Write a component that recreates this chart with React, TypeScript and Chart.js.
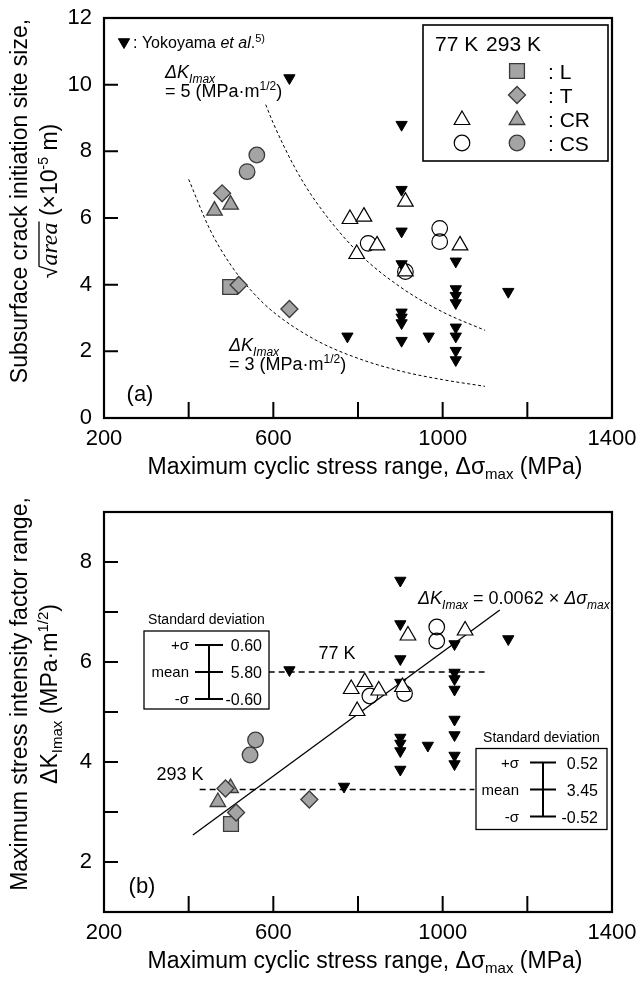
import React, { useEffect, useRef } from 'react';
import { Chart, registerables } from 'chart.js';
Chart.register(...registerables);

const FONT = '"Liberation Sans", Arial, Helvetica, sans-serif';
const SERIF = '"Liberation Serif", "DejaVu Serif", serif';
const GRAY = '#a4a4a4';
const EDGE = '#3a3a3a';

// ---- shared axis data ----
const xTicks = [200, 400, 600, 800, 1000, 1200, 1400];
const xTickLabels = [200, 600, 1000, 1400];
const yTicksA = [0, 2, 4, 6, 8, 10, 12];
const yTicksB = [1, 2, 3, 4, 5, 6, 7, 8, 9];
const yTickLabelsB = [2, 4, 6, 8];

// ---- (a) sqrt(area) x10^-5 m vs stress ----
const yokoSigmaA = [638, 775, 903, 903, 903, 903, 903, 903, 903, 903, 967, 1031, 1031, 1031, 1031, 1031, 1031, 1031, 1031, 1155];
const yokoAreaA = [10.2, 2.45, 8.8, 6.85, 5.6, 4.62, 3.17, 3.02, 2.85, 2.32, 2.45, 4.7, 3.87, 3.67, 3.45, 2.72, 2.45, 2.02, 1.74, 3.79];
const cr77SigmaA = [781, 814, 797, 845, 912, 912, 1041];
const cr77AreaA = [5.97, 6.04, 4.92, 5.18, 6.49, 4.4, 5.18];
const cs77SigmaA = [993, 993, 912, 824];
const cs77AreaA = [5.69, 5.29, 4.39, 5.24];
const l293SigmaA = [498];
const l293AreaA = [3.93];
const t293SigmaA = [479, 518, 638];
const t293AreaA = [6.74, 3.99, 3.27];
const cr293SigmaA = [461, 499];
const cr293AreaA = [6.22, 6.4];
const cs293SigmaA = [561, 538];
const cs293AreaA = [7.89, 7.39];
const dk3Sigma = [400, 450, 500, 550, 600, 700, 800, 900, 1000, 1100];
const dk3Area = [7.16, 5.66, 4.58, 3.79, 3.18, 2.34, 1.79, 1.41, 1.15, 0.95];
const dk5Sigma = [582, 600, 650, 700, 800, 900, 1000, 1100];
const dk5Area = [9.4, 8.84, 7.53, 6.5, 4.97, 3.93, 3.18, 2.63];

// ---- (b) dK_Imax vs stress ----
const yokoSigmaB = [638, 767, 900, 900, 900, 900, 900, 900, 900, 900, 965, 1028, 1028, 1028, 1028, 1028, 1028, 1028, 1028, 1155];
const yokoKB = [5.84, 3.51, 7.63, 6.76, 6.06, 5.59, 4.49, 4.37, 4.22, 3.85, 4.33, 6.36, 5.79, 5.66, 5.45, 4.85, 4.54, 4.13, 3.96, 6.46];
const cr77SigmaB = [784, 816, 798, 849, 918, 905, 1053];
const cr77KB = [5.46, 5.6, 5.02, 5.43, 6.53, 5.5, 6.63];
const cs77SigmaB = [986, 986, 910, 828];
const cs77KB = [6.7, 6.42, 5.37, 5.32];
const l293SigmaB = [500];
const l293KB = [2.76];
const t293SigmaB = [487, 512, 685];
const t293KB = [3.47, 2.99, 3.25];
const cr293SigmaB = [469, 499];
const cr293KB = [3.2, 3.48];
const cs293SigmaB = [558, 545];
const cs293KB = [4.44, 4.14];
const fitSigma = [410, 1135];
const fitK = [2.54, 7.04];
const mean77Sigma = [589, 1099];
const mean77K = [5.8, 5.8];
const mean293Sigma = [426, 1075];
const mean293K = [3.45, 3.45];
const sdLabels = ['+σ', 'mean', '-σ'];
const sd77Values = ['0.60', '5.80', '-0.60'];
const sd293Values = ['0.52', '3.45', '-0.52'];

const xy = (xs: number[], ys: number[]) => xs.map((x, i) => ({ x, y: ys[i] }));

const ptYoko = { pointStyle: 'triangle', rotation: 180, pointRadius: 6.5, backgroundColor: '#000', borderColor: '#000', borderWidth: 1 };
const ptL = { pointStyle: 'rect', pointRadius: 10.5, backgroundColor: GRAY, borderColor: EDGE, borderWidth: 1.3 };
const ptT = { pointStyle: 'rectRot', pointRadius: 8.5, backgroundColor: GRAY, borderColor: EDGE, borderWidth: 1.3 };
const ptCRg = { pointStyle: 'triangle', pointRadius: 9, backgroundColor: GRAY, borderColor: EDGE, borderWidth: 1.3 };
const ptCSg = { pointStyle: 'circle', pointRadius: 7.8, backgroundColor: GRAY, borderColor: EDGE, borderWidth: 1.3 };
const ptCRo = { pointStyle: 'triangle', pointRadius: 9, backgroundColor: '#fff', borderColor: '#000', borderWidth: 1.2 };
const ptCSo = { pointStyle: 'circle', pointRadius: 7.8, backgroundColor: 'rgba(255,255,255,0)', borderColor: '#000', borderWidth: 1.2 };

function fontOf(p: any) {
  return `${p.i ? 'italic ' : ''}${p.s}px ${p.serif ? SERIF : FONT}`;
}
function rich(ctx: any, parts: any[], x: number, y: number, align = 'left') {
  let w = 0;
  for (const p of parts) { ctx.font = fontOf(p); w += ctx.measureText(p.t).width; }
  let cx = align === 'center' ? x - w / 2 : align === 'right' ? x - w : x;
  ctx.textAlign = 'left';
  ctx.textBaseline = 'alphabetic';
  ctx.fillStyle = '#000';
  for (const p of parts) {
    ctx.font = fontOf(p);
    const tw = ctx.measureText(p.t).width;
    ctx.fillText(p.t, cx, y + (p.dy || 0));
    if (p.over) {
      ctx.beginPath();
      ctx.lineWidth = 1.3;
      ctx.strokeStyle = '#000';
      ctx.moveTo(cx - 1, y - p.over);
      ctx.lineTo(cx + tw + 1, y - p.over);
      ctx.stroke();
    }
    cx += tw;
  }
  return w;
}
function marker(ctx: any, style: string, x: number, y: number, r: number, fill: string | null, stroke: string | null, lw: number) {
  ctx.save();
  ctx.beginPath();
  if (style === 'circle') ctx.arc(x, y, r, 0, Math.PI * 2);
  else if (style === 'rect') { const s = r * Math.SQRT1_2; ctx.rect(x - s, y - s, 2 * s, 2 * s); }
  else if (style === 'rectRot') { ctx.moveTo(x - r, y); ctx.lineTo(x, y - r); ctx.lineTo(x + r, y); ctx.lineTo(x, y + r); ctx.closePath(); }
  else if (style === 'triangle') { ctx.moveTo(x, y - r); ctx.lineTo(x + r * 0.866, y + r / 2); ctx.lineTo(x - r * 0.866, y + r / 2); ctx.closePath(); }
  else if (style === 'down') { ctx.moveTo(x, y + r); ctx.lineTo(x + r * 0.866, y - r / 2); ctx.lineTo(x - r * 0.866, y - r / 2); ctx.closePath(); }
  if (fill) { ctx.fillStyle = fill; ctx.fill(); }
  if (stroke) { ctx.strokeStyle = stroke; ctx.lineWidth = lw; ctx.stroke(); }
  ctx.restore();
}

function drawFrame(chart: any) {
  const ctx = chart.ctx;
  const { left, right, top, bottom } = chart.chartArea;
  const xs = chart.scales.x, ys = chart.scales.y;
  ctx.save();
  ctx.strokeStyle = '#000';
  ctx.lineWidth = 2.2;
  ctx.strokeRect(left, top, right - left, bottom - top);
  ctx.lineWidth = 2;
  ctx.beginPath();
  for (const t of xs.ticks) {
    if (t.value <= xs.min || t.value >= xs.max) continue;
    const px = xs.getPixelForValue(t.value);
    ctx.moveTo(px, bottom);
    ctx.lineTo(px, bottom - 16);
  }
  for (const t of ys.ticks) {
    if (t.value <= ys.min || t.value >= ys.max) continue;
    const py = ys.getPixelForValue(t.value);
    ctx.moveTo(left, py);
    ctx.lineTo(left + 14, py);
  }
  ctx.stroke();
  ctx.restore();
}

function xTitle(ctx: any) {
  rich(ctx, [
    { t: 'Maximum cyclic stress range, Δσ', s: 23 },
    { t: 'max', s: 15, dy: 5 },
    { t: ' (MPa)', s: 23 },
  ], 365, 474, 'center');
}
function yTitle(ctx: any, cy: number, line1: any[], line2: any[]) {
  ctx.save();
  ctx.translate(19, cy);
  ctx.rotate(-Math.PI / 2);
  rich(ctx, line1, 0, 8, 'center');
  ctx.restore();
  ctx.save();
  ctx.translate(49, cy);
  ctx.rotate(-Math.PI / 2);
  rich(ctx, line2, 0, 8, 'center');
  ctx.restore();
}

function baseOptions(yMin: number, yMax: number, yTicks: number[], yLabels: number[]) {
  return {
    responsive: false,
    maintainAspectRatio: false,
    animation: false,
    devicePixelRatio: 1,
    events: [],
    layout: { padding: { top: 18, right: 28, left: 0, bottom: 0 } },
    plugins: { legend: { display: false }, tooltip: { enabled: false } },
    scales: {
      x: {
        type: 'linear', min: 200, max: 1400,
        afterBuildTicks: (s: any) => { s.ticks = xTicks.map((v) => ({ value: v })); },
        afterFit: (s: any) => { s.height = 76; s.paddingLeft = 0; s.paddingRight = 0; s.paddingTop = 0; s.paddingBottom = 0; },
        ticks: {
          callback: (v: any) => (xTickLabels.includes(Number(v)) ? String(v) : ''),
          font: { family: FONT, size: 22 }, color: '#000', padding: 8, maxRotation: 0, autoSkip: false,
        },
        grid: { display: false, drawTicks: false },
        border: { display: false },
      },
      y: {
        type: 'linear', min: yMin, max: yMax,
        afterBuildTicks: (s: any) => { s.ticks = yTicks.map((v) => ({ value: v })); },
        afterFit: (s: any) => { s.width = 104; s.paddingLeft = 0; s.paddingRight = 0; s.paddingTop = 0; s.paddingBottom = 0; },
        ticks: {
          callback: (v: any) => (yLabels.includes(Number(v)) ? String(v) : ''),
          font: { family: FONT, size: 22 }, color: '#000', padding: 12, autoSkip: false,
        },
        grid: { display: false, drawTicks: false },
        border: { display: false },
      },
    },
  };
}

function lineDs(xs: number[], ys: number[], dash: number[], width: number, smooth: boolean) {
  return {
    data: xy(xs, ys), showLine: true, pointRadius: 0, borderColor: '#000', borderWidth: width,
    borderDash: dash, fill: false, cubicInterpolationMode: smooth ? 'monotone' : 'default', order: 10,
  };
}

function configA(): any {
  return {
    type: 'scatter',
    data: {
      datasets: [
        { data: xy(cr77SigmaA, cr77AreaA), ...ptCRo, order: 1 },
        { data: xy(cs77SigmaA, cs77AreaA), ...ptCSo, order: 2 },
        { data: xy(l293SigmaA, l293AreaA), ...ptL, order: 4 },
        { data: xy(t293SigmaA, t293AreaA), ...ptT, order: 3 },
        { data: xy(cr293SigmaA, cr293AreaA), ...ptCRg, order: 5 },
        { data: xy(cs293SigmaA, cs293AreaA), ...ptCSg, order: 6 },
        { data: xy(yokoSigmaA, yokoAreaA), ...ptYoko, order: 7 },
        lineDs(dk3Sigma, dk3Area, [3, 2.5], 1, true),
        lineDs(dk5Sigma, dk5Area, [3, 2.5], 1, true),
      ],
    },
    options: baseOptions(0, 12, yTicksA, yTicksA),
    plugins: [{
      id: 'decorA',
      afterDraw(chart: any) {
        const ctx = chart.ctx;
        drawFrame(chart);
        ctx.save();
        xTitle(ctx);
        yTitle(ctx, 201,
          [{ t: 'Subsurface crack initiation site size,', s: 23 }],
          [
            { t: '√', s: 23 },
            { t: 'area', s: 24, i: true, serif: true, over: 18 },
            { t: ' (×10', s: 23 },
            { t: '-5', s: 14, dy: -9 },
            { t: ' m)', s: 23 },
          ]);
        rich(ctx, [{ t: '(a)', s: 22 }], 140, 401, 'center');
        // Yokoyama note
        marker(ctx, 'down', 124, 42, 6.5, '#000', '#000', 1);
        rich(ctx, [
          { t: ': Yokoyama ', s: 16 },
          { t: 'et al', s: 16, i: true },
          { t: '.', s: 16 },
          { t: '5)', s: 11, dy: -6 },
        ], 133, 48);
        // dK labels
        const dkLabel = (x: number, y: number, val: string) => {
          rich(ctx, [{ t: 'ΔK', s: 18, i: true }, { t: 'Imax', s: 12, i: true, dy: 5 }], x, y);
          rich(ctx, [{ t: `= ${val} (MPa·m`, s: 18 }, { t: '1/2', s: 12, dy: -7 }, { t: ')', s: 18 }], x, y + 19);
        };
        dkLabel(165, 78, '5');
        dkLabel(229, 351, '3');
        // legend box
        ctx.strokeStyle = '#000';
        ctx.lineWidth = 1.6;
        ctx.strokeRect(423, 25, 185, 136);
        rich(ctx, [{ t: '77 K', s: 21 }], 435, 51);
        rich(ctx, [{ t: '293 K', s: 21 }], 541, 51, 'right');
        const c77 = 462, c293 = 517;
        const rows = [71, 95, 119, 143];
        marker(ctx, 'rect', c293, rows[0], 10.5, GRAY, EDGE, 1.3);
        marker(ctx, 'rectRot', c293, rows[1], 8.5, GRAY, EDGE, 1.3);
        marker(ctx, 'triangle', c293, rows[2] + 1, 9, GRAY, EDGE, 1.3);
        marker(ctx, 'circle', c293, rows[3], 7.8, GRAY, EDGE, 1.3);
        marker(ctx, 'triangle', c77, rows[2] + 1, 9, '#fff', '#000', 1.2);
        marker(ctx, 'circle', c77, rows[3], 7.8, null, '#000', 1.2);
        const names = [': L', ': T', ': CR', ': CS'];
        names.forEach((n, i) => rich(ctx, [{ t: n, s: 21 }], 548, rows[i] + 8));
        ctx.restore();
      },
    }],
  };
}

function sdBox(ctx: any, chart: any, mean: number, x0: number, x1: number, labelRight: number, barL: number, barR: number, valRight: number, vals: string[], bottomExtra: number) {
  const ys = chart.scales.y;
  const my = ys.getPixelForValue(mean);
  const top = my - 41, bottom = my + bottomExtra;
  ctx.save();
  ctx.fillStyle = '#fff';
  ctx.fillRect(x0, top, x1 - x0, bottom - top);
  ctx.strokeStyle = '#000';
  ctx.lineWidth = 1.3;
  ctx.strokeRect(x0, top, x1 - x0, bottom - top);
  rich(ctx, [{ t: 'Standard deviation', s: 14 }], (x0 + x1) / 2, top - 7, 'center');
  const rowY = [my - 27, my, my + 27];
  ctx.lineWidth = 2;
  ctx.beginPath();
  rowY.forEach((y) => { ctx.moveTo(barL, y); ctx.lineTo(barR, y); });
  const vx = (barL + barR) / 2;
  ctx.moveTo(vx, rowY[0]);
  ctx.lineTo(vx, rowY[2]);
  ctx.stroke();
  rowY.forEach((y, i) => {
    rich(ctx, [{ t: sdLabels[i], s: 15 }], labelRight, y + 5, 'right');
    rich(ctx, [{ t: vals[i], s: 16 }], valRight, y + 6, 'right');
  });
  ctx.restore();
}

function configB(): any {
  return {
    type: 'scatter',
    data: {
      datasets: [
        { data: xy(cr77SigmaB, cr77KB), ...ptCRo, order: 1 },
        { data: xy(cs77SigmaB, cs77KB), ...ptCSo, order: 2 },
        { data: xy(l293SigmaB, l293KB), ...ptL, order: 4 },
        { data: xy(t293SigmaB, t293KB), ...ptT, order: 3 },
        { data: xy(cr293SigmaB, cr293KB), ...ptCRg, order: 5 },
        { data: xy(cs293SigmaB, cs293KB), ...ptCSg, order: 6 },
        { data: xy(yokoSigmaB, yokoKB), ...ptYoko, order: 7 },
        lineDs(fitSigma, fitK, [], 1.3, false),
        lineDs(mean77Sigma, mean77K, [6, 4], 1.3, false),
        lineDs(mean293Sigma, mean293K, [6, 4], 1.3, false),
      ],
    },
    options: baseOptions(1, 9, yTicksB, yTickLabelsB),
    plugins: [{
      id: 'decorB',
      afterDraw(chart: any) {
        const ctx = chart.ctx;
        drawFrame(chart);
        ctx.save();
        xTitle(ctx);
        yTitle(ctx, 200,
          [{ t: 'Maximum stress intensity factor range,', s: 23 }],
          [
            { t: 'ΔK', s: 23 },
            { t: 'Imax', s: 15, dy: 5 },
            { t: ' (MPa·m', s: 23 },
            { t: '1/2', s: 15, dy: -9 },
            { t: ')', s: 23 },
          ]);
        rich(ctx, [{ t: '(b)', s: 22 }], 142, 399, 'center');
        rich(ctx, [{ t: '77 K', s: 18 }], 337, 165, 'center');
        rich(ctx, [{ t: '293 K', s: 18 }], 180, 286, 'center');
        rich(ctx, [
          { t: 'ΔK', s: 18, i: true },
          { t: 'Imax', s: 12, i: true, dy: 5 },
          { t: ' = 0.0062 × ', s: 18 },
          { t: 'Δσ', s: 18, i: true },
          { t: 'max', s: 12, i: true, dy: 5 },
        ], 418, 110);
        sdBox(ctx, chart, 5.8, 144, 269, 189, 195, 223, 262, sd77Values, 37);
        sdBox(ctx, chart, 3.45, 476, 607, 519, 530, 556, 598, sd293Values, 40);
        ctx.restore();
      },
    }],
  };
}

export default function App() {
  const refA = useRef<HTMLCanvasElement>(null);
  const refB = useRef<HTMLCanvasElement>(null);
  useEffect(() => {
    const a = new Chart(refA.current as HTMLCanvasElement, configA());
    const b = new Chart(refB.current as HTMLCanvasElement, configB());
    return () => { a.destroy(); b.destroy(); };
  }, []);
  return (
    <div style={{ position: 'absolute', left: 0, top: 0, width: 640, height: 988, background: '#fff' }}>
      <canvas ref={refA} width={640} height={494} style={{ display: 'block', width: 640, height: 494 }} />
      <canvas ref={refB} width={640} height={494} style={{ display: 'block', width: 640, height: 494 }} />
    </div>
  );
}
